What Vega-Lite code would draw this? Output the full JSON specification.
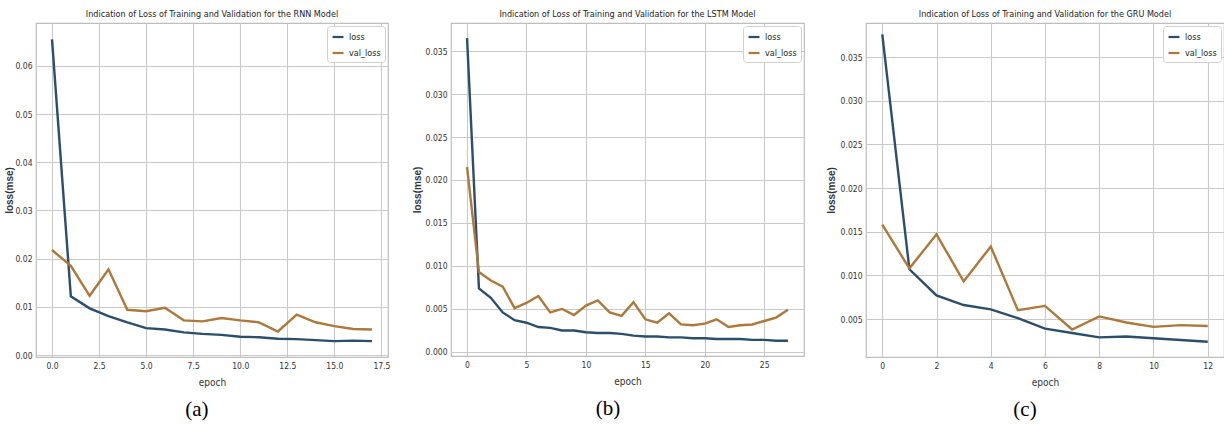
{
  "$schema": "https://vega.github.io/schema/vega-lite/v6.json",
  "background": "white",
  "padding": {"left": 3, "top": 9, "right": 0, "bottom": 0},
  "datasets": {
    "rnn": [
      {"epoch":0,"series":"loss","value":0.0655},{"epoch":1,"series":"loss","value":0.0122},{"epoch":2,"series":"loss","value":0.0097},{"epoch":3,"series":"loss","value":0.0081},{"epoch":4,"series":"loss","value":0.0068},{"epoch":5,"series":"loss","value":0.0056},{"epoch":6,"series":"loss","value":0.0053},{"epoch":7,"series":"loss","value":0.0047},{"epoch":8,"series":"loss","value":0.0044},{"epoch":9,"series":"loss","value":0.0042},{"epoch":10,"series":"loss","value":0.0038},{"epoch":11,"series":"loss","value":0.0037},{"epoch":12,"series":"loss","value":0.0034},{"epoch":13,"series":"loss","value":0.0033},{"epoch":14,"series":"loss","value":0.0031},{"epoch":15,"series":"loss","value":0.0029},{"epoch":16,"series":"loss","value":0.0030},{"epoch":17,"series":"loss","value":0.0029},
      {"epoch":0,"series":"val_loss","value":0.0218},{"epoch":1,"series":"val_loss","value":0.0185},{"epoch":2,"series":"val_loss","value":0.0123},{"epoch":3,"series":"val_loss","value":0.0178},{"epoch":4,"series":"val_loss","value":0.0094},{"epoch":5,"series":"val_loss","value":0.0091},{"epoch":6,"series":"val_loss","value":0.0098},{"epoch":7,"series":"val_loss","value":0.0072},{"epoch":8,"series":"val_loss","value":0.0070},{"epoch":9,"series":"val_loss","value":0.0077},{"epoch":10,"series":"val_loss","value":0.0072},{"epoch":11,"series":"val_loss","value":0.0068},{"epoch":12,"series":"val_loss","value":0.0049},{"epoch":13,"series":"val_loss","value":0.0084},{"epoch":14,"series":"val_loss","value":0.0068},{"epoch":15,"series":"val_loss","value":0.0060},{"epoch":16,"series":"val_loss","value":0.0054},{"epoch":17,"series":"val_loss","value":0.0053}
    ],
    "lstm": [
      {"epoch":0,"series":"loss","value":0.0365},{"epoch":1,"series":"loss","value":0.0074},{"epoch":2,"series":"loss","value":0.0063},{"epoch":3,"series":"loss","value":0.0046},{"epoch":4,"series":"loss","value":0.0037},{"epoch":5,"series":"loss","value":0.0034},{"epoch":6,"series":"loss","value":0.0029},{"epoch":7,"series":"loss","value":0.0028},{"epoch":8,"series":"loss","value":0.0025},{"epoch":9,"series":"loss","value":0.0025},{"epoch":10,"series":"loss","value":0.0023},{"epoch":11,"series":"loss","value":0.0022},{"epoch":12,"series":"loss","value":0.0022},{"epoch":13,"series":"loss","value":0.0021},{"epoch":14,"series":"loss","value":0.0019},{"epoch":15,"series":"loss","value":0.0018},{"epoch":16,"series":"loss","value":0.0018},{"epoch":17,"series":"loss","value":0.0017},{"epoch":18,"series":"loss","value":0.0017},{"epoch":19,"series":"loss","value":0.0016},{"epoch":20,"series":"loss","value":0.0016},{"epoch":21,"series":"loss","value":0.0015},{"epoch":22,"series":"loss","value":0.0015},{"epoch":23,"series":"loss","value":0.0015},{"epoch":24,"series":"loss","value":0.0014},{"epoch":25,"series":"loss","value":0.0014},{"epoch":26,"series":"loss","value":0.0013},{"epoch":27,"series":"loss","value":0.0013},
      {"epoch":0,"series":"val_loss","value":0.0215},{"epoch":1,"series":"val_loss","value":0.0093},{"epoch":2,"series":"val_loss","value":0.0083},{"epoch":3,"series":"val_loss","value":0.0076},{"epoch":4,"series":"val_loss","value":0.0051},{"epoch":5,"series":"val_loss","value":0.0057},{"epoch":6,"series":"val_loss","value":0.0065},{"epoch":7,"series":"val_loss","value":0.0046},{"epoch":8,"series":"val_loss","value":0.0050},{"epoch":9,"series":"val_loss","value":0.0043},{"epoch":10,"series":"val_loss","value":0.0054},{"epoch":11,"series":"val_loss","value":0.0060},{"epoch":12,"series":"val_loss","value":0.0046},{"epoch":13,"series":"val_loss","value":0.0042},{"epoch":14,"series":"val_loss","value":0.0058},{"epoch":15,"series":"val_loss","value":0.0038},{"epoch":16,"series":"val_loss","value":0.0034},{"epoch":17,"series":"val_loss","value":0.0045},{"epoch":18,"series":"val_loss","value":0.0032},{"epoch":19,"series":"val_loss","value":0.0031},{"epoch":20,"series":"val_loss","value":0.0033},{"epoch":21,"series":"val_loss","value":0.0038},{"epoch":22,"series":"val_loss","value":0.0029},{"epoch":23,"series":"val_loss","value":0.0031},{"epoch":24,"series":"val_loss","value":0.0032},{"epoch":25,"series":"val_loss","value":0.0036},{"epoch":26,"series":"val_loss","value":0.0040},{"epoch":27,"series":"val_loss","value":0.0049}
    ],
    "gru": [
      {"epoch":0,"series":"loss","value":0.0376},{"epoch":1,"series":"loss","value":0.0107},{"epoch":2,"series":"loss","value":0.0077},{"epoch":3,"series":"loss","value":0.0066},{"epoch":4,"series":"loss","value":0.0061},{"epoch":5,"series":"loss","value":0.0051},{"epoch":6,"series":"loss","value":0.0039},{"epoch":7,"series":"loss","value":0.0034},{"epoch":8,"series":"loss","value":0.0029},{"epoch":9,"series":"loss","value":0.0030},{"epoch":10,"series":"loss","value":0.0028},{"epoch":11,"series":"loss","value":0.0026},{"epoch":12,"series":"loss","value":0.0024},
      {"epoch":0,"series":"val_loss","value":0.0158},{"epoch":1,"series":"val_loss","value":0.0108},{"epoch":2,"series":"val_loss","value":0.0147},{"epoch":3,"series":"val_loss","value":0.0093},{"epoch":4,"series":"val_loss","value":0.0133},{"epoch":5,"series":"val_loss","value":0.0060},{"epoch":6,"series":"val_loss","value":0.0065},{"epoch":7,"series":"val_loss","value":0.0038},{"epoch":8,"series":"val_loss","value":0.0053},{"epoch":9,"series":"val_loss","value":0.0046},{"epoch":10,"series":"val_loss","value":0.0041},{"epoch":11,"series":"val_loss","value":0.0043},{"epoch":12,"series":"val_loss","value":0.0042}
    ]
  },
  "config": {
    "font": "DejaVu Sans Condensed, Liberation Sans, sans-serif",
    "view": {"stroke": "#bdbdbd", "strokeWidth": 1.2},
    "axis": {
      "domain": false, "ticks": false, "grid": true, "gridColor": "#c9c9c9", "gridWidth": 1.1,
      "labelFont": "DejaVu Sans Condensed, Liberation Sans, sans-serif", "labelFontSize": 8.5, "labelColor": "#333333", "labelPadding": 4,
      "titleFont": "DejaVu Sans Condensed, Liberation Sans, sans-serif", "titleFontSize": 10, "titleFontWeight": "normal", "titleColor": "#333333"
    },
    "axisY": {"titleFont": "Liberation Sans, sans-serif", "titleFontWeight": "bold", "titleFontSize": 10, "titlePadding": 2},
    "axisX": {"titlePadding": 8},
    "title": {"font": "DejaVu Sans Condensed, Liberation Sans, sans-serif", "fontSize": 9, "fontWeight": "normal", "color": "#222222", "offset": 4},
    "legend": {
      "orient": "top-right", "offset": 3, "title": null, "fillColor": "white", "strokeColor": "#d0d0d0",
      "padding": 4, "cornerRadius": 3, "symbolType": "stroke", "symbolStrokeWidth": 2.2, "symbolSize": 120,
      "labelFont": "DejaVu Sans Condensed, Liberation Sans, sans-serif", "labelFontSize": 9, "labelColor": "#222222", "rowPadding": 4
    }
  },
  "spacing": 20,
  "resolve": {"scale": {"color": "independent"}, "legend": {"color": "independent"}},
  "hconcat": [
    {
      "title": {"text": "(a)", "orient": "bottom", "anchor": "middle", "font": "Liberation Serif", "fontSize": 21, "fontWeight": "normal", "color": "#000000", "offset": 11},
      "resolve": {"scale": {"color": "independent"}, "legend": {"color": "independent"}},
      "vconcat": [
        {
          "title": {"text": "Indication of Loss of Training and Validation for the RNN Model"},
          "width": 352, "height": 334,
          "data": {"name": "rnn"},
          "mark": {"type": "line", "strokeWidth": 2.4},
          "encoding": {
            "x": {"field": "epoch", "type": "quantitative", "title": "epoch",
                  "scale": {"domain": [-0.85, 17.85], "nice": false, "zero": false},
                  "axis": {"values": [0, 2.5, 5, 7.5, 10, 12.5, 15, 17.5], "format": ".1f"}},
            "y": {"field": "value", "type": "quantitative", "title": "loss(mse)",
                  "scale": {"domain": [-0.0004, 0.0689], "nice": false, "zero": false},
                  "axis": {"values": [0, 0.01, 0.02, 0.03, 0.04, 0.05, 0.06], "format": ".2f", "minExtent": 20, "maxExtent": 20}},
            "color": {"field": "series", "type": "nominal",
                      "scale": {"domain": ["loss", "val_loss"], "range": ["#2b4e6c", "#ad783a"]}}
          }
        }
      ]
    },
    {
      "title": {"text": "(b)", "orient": "bottom", "anchor": "middle", "font": "Liberation Serif", "fontSize": 21, "fontWeight": "normal", "color": "#000000", "offset": 11},
      "resolve": {"scale": {"color": "independent"}, "legend": {"color": "independent"}},
      "vconcat": [
        {
          "title": {"text": "Indication of Loss of Training and Validation for the LSTM Model"},
          "width": 353, "height": 333,
          "data": {"name": "lstm"},
          "mark": {"type": "line", "strokeWidth": 2.4},
          "encoding": {
            "x": {"field": "epoch", "type": "quantitative", "title": "epoch",
                  "scale": {"domain": [-1.35, 28.35], "nice": false, "zero": false},
                  "axis": {"values": [0, 5, 10, 15, 20, 25], "format": "d"}},
            "y": {"field": "value", "type": "quantitative", "title": "loss(mse)",
                  "scale": {"domain": [-0.00047, 0.03826], "nice": false, "zero": false},
                  "axis": {"values": [0, 0.005, 0.01, 0.015, 0.02, 0.025, 0.03, 0.035], "format": ".3f", "minExtent": 27, "maxExtent": 27}},
            "color": {"field": "series", "type": "nominal",
                      "scale": {"domain": ["loss", "val_loss"], "range": ["#2b4e6c", "#ad783a"]}}
          }
        }
      ]
    },
    {
      "title": {"text": "(c)", "orient": "bottom", "anchor": "middle", "font": "Liberation Serif", "fontSize": 21, "fontWeight": "normal", "color": "#000000", "offset": 11},
      "resolve": {"scale": {"color": "independent"}, "legend": {"color": "independent"}},
      "vconcat": [
        {
          "title": {"text": "Indication of Loss of Training and Validation for the GRU Model"},
          "width": 358, "height": 334,
          "data": {"name": "gru"},
          "mark": {"type": "line", "strokeWidth": 2.4},
          "encoding": {
            "x": {"field": "epoch", "type": "quantitative", "title": "epoch",
                  "scale": {"domain": [-0.6, 12.6], "nice": false, "zero": false},
                  "axis": {"values": [0, 2, 4, 6, 8, 10, 12], "format": "d"}},
            "y": {"field": "value", "type": "quantitative", "title": "loss(mse)",
                  "scale": {"domain": [0.00065, 0.0389], "nice": false, "zero": false},
                  "axis": {"values": [0.005, 0.01, 0.015, 0.02, 0.025, 0.03, 0.035], "format": ".3f", "minExtent": 28, "maxExtent": 28}},
            "color": {"field": "series", "type": "nominal",
                      "scale": {"domain": ["loss", "val_loss"], "range": ["#2b4e6c", "#ad783a"]}}
          }
        }
      ]
    }
  ]
}
